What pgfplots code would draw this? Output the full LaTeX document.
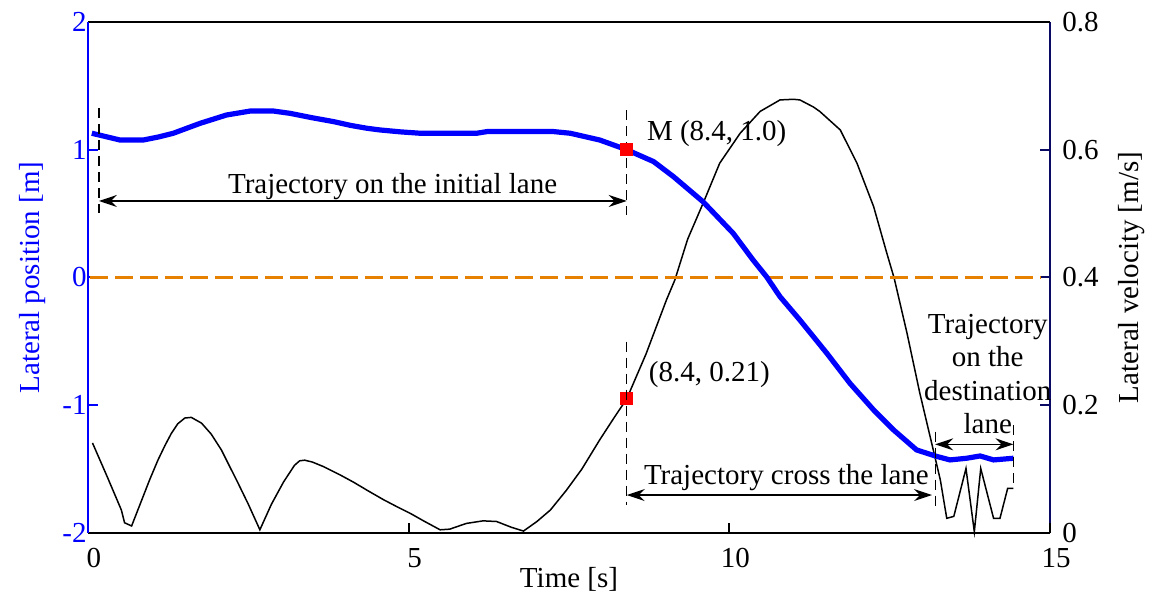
\documentclass[border=0pt]{standalone}
\usepackage{fontspec}
\setmainfont{Liberation Serif}
\usepackage{pgfplots}
\pgfplotsset{compat=1.18}
\usepackage{pgfplotstable}
\usetikzlibrary{arrows.meta}

\definecolor{posblue}{RGB}{0,0,255}
\definecolor{laneorange}{RGB}{230,128,0}
\definecolor{velaxis}{RGB}{10,10,100}

% lateral velocity [m/s] over time [s]
\pgfplotstableread{
t v
0.07 0.141
0.30 0.088
0.52 0.036
0.57 0.016
0.68 0.011
0.96 0.083
1.09 0.114
1.20 0.137
1.30 0.156
1.40 0.171
1.51 0.180
1.61 0.181
1.77 0.172
1.92 0.155
2.08 0.130
2.34 0.078
2.50 0.045
2.68 0.005
2.86 0.045
3.05 0.080
3.22 0.106
3.30 0.113
3.38 0.114
3.50 0.111
3.67 0.104
3.93 0.091
4.15 0.079
4.35 0.067
4.61 0.052
4.82 0.041
5.02 0.031
5.25 0.018
5.49 0.005
5.64 0.006
5.90 0.015
6.16 0.019
6.37 0.018
6.60 0.009
6.79 0.003
7.00 0.018
7.21 0.036
7.46 0.067
7.70 0.100
7.98 0.146
8.20 0.180
8.40 0.210
8.70 0.280
9.02 0.365
9.15 0.396
9.35 0.460
9.59 0.516
9.85 0.579
10.17 0.626
10.48 0.660
10.79 0.678
11.00 0.679
11.10 0.678
11.31 0.667
11.41 0.660
11.73 0.631
11.99 0.579
12.25 0.511
12.45 0.440
12.57 0.399
12.77 0.313
12.97 0.219
13.18 0.130
13.29 0.083
13.39 0.023
13.50 0.026
13.69 0.101
13.82 0.002
13.92 0.101
14.12 0.023
14.22 0.023
14.34 0.070
14.43 0.070
}\velocity

% lateral position [m] over time [s]
\pgfplotstableread{
t y
0.06 1.129
0.30 1.100
0.50 1.076
0.86 1.076
1.10 1.100
1.33 1.129
1.55 1.170
1.75 1.207
2.16 1.272
2.53 1.303
2.89 1.303
3.15 1.285
3.50 1.250
3.83 1.220
4.10 1.190
4.35 1.168
4.55 1.155
4.87 1.140
5.18 1.129
6.06 1.129
6.22 1.142
7.26 1.142
7.52 1.129
7.98 1.076
8.40 1.000
8.82 0.907
9.13 0.789
9.59 0.593
10.06 0.346
10.37 0.137
10.58 0.006
10.79 -0.150
11.10 -0.333
11.52 -0.593
11.88 -0.828
12.25 -1.037
12.56 -1.193
12.92 -1.350
13.23 -1.400
13.44 -1.428
13.70 -1.415
13.91 -1.397
14.12 -1.428
14.43 -1.415
}\position

\begin{document}
\fontsize{14.5}{16.7}\selectfont
\begin{tikzpicture}[
  guide/.style={black, line width=0.6pt, dash pattern=on 5pt off 3pt},
  span/.style={black, line width=0.65pt,
    {Stealth[length=9pt,width=6pt,inset=3pt]}-{Stealth[length=9pt,width=6pt,inset=3pt]}},
]
\pgfplotsset{
  common/.style={
    at={(0,0)}, anchor=south west,
    scale only axis, width=481pt, height=255.5pt,
    xmin=0, xmax=15, clip=false,
    major tick length=5pt, tick align=inside,
  }
}
% right axis: lateral velocity
\begin{axis}[common,
  axis x line=none, axis y line*=right,
  ymin=0, ymax=0.8,
  ytick={0,0.2,0.4,0.6,0.8}, yticklabels={0,0.2,0.4,0.6,0.8},
  y axis line style={velaxis, line width=1pt},
  ytick style={velaxis, line width=1pt},
  yticklabel style={black, inner xsep=0pt, xshift=6pt},
  ylabel={Lateral velocity [m/s]},
  every axis y label/.style={at={(axis description cs:1.0852,0.5)}, anchor=center, rotate=90},
]
\addplot[black, line width=0.75pt] table[x=t, y=v] {\velocity};
\addplot[only marks, mark=square*, mark size=3pt, red] coordinates {(8.4,0.21)};
\end{axis}

% left axis: lateral position
\begin{axis}[common,
  axis x line*=box, axis y line*=left, xtick pos=left,
  ymin=-2, ymax=2,
  xtick={0,5,10,15}, xticklabels={0,5,10,15},
  ytick={-2,-1,0,1,2}, yticklabels={-2,-1,0,1,2},
  x axis line style={black, line width=1.2pt},
  y axis line style={posblue, line width=1pt},
  xtick style={black, line width=1pt},
  ytick style={posblue, line width=1pt},
  yticklabel style={posblue, inner xsep=0.5pt},
  xticklabel style={xshift=3pt, yshift=-2.5pt},
  xlabel={Time [s]}, ylabel={Lateral position [m]},
  every axis x label/.style={at={(axis description cs:0.5,-0.1057)}, anchor=base},
  every axis y label/.style={at={(axis description cs:-0.0572,0.5)}, anchor=center, rotate=90, color=posblue},
]
% lane centre line
\addplot[laneorange, line width=1.5pt, dash pattern=on 9pt off 3.5pt] coordinates {(0.03,0) (14.85,0)};
\addplot[posblue, line width=2.6pt] table[x=t, y=y] {\position};
\addplot[only marks, mark=square*, mark size=3pt, red] coordinates {(8.4,1.0)};

% phase boundaries
\draw[guide] (0.17,1.327) -- (0.17,0.505);
\draw[guide] (8.4,1.311) -- (8.4,0.489);
\draw[guide] (8.4,-0.503) -- (8.4,-1.78);
\draw[guide] (13.21,-1.207) -- (13.21,-1.794);
\draw[guide] (14.43,-1.155) -- (14.43,-1.638);

% phase spans
\draw[span] (0.17,0.599) -- (8.4,0.599);
\draw[span] (8.4,-1.703) -- (13.16,-1.703);
\draw[span] (13.21,-1.306) -- (14.43,-1.306);

\node[anchor=base] at (4.75,0.661) {Trajectory on the initial lane};
\node[anchor=base west, inner sep=0pt] at (8.71,1.076) {M (8.4, 1.0)};
\node[anchor=base west, inner sep=0pt] at (8.74,-0.816) {(8.4, 0.21)};
\node[anchor=base] at (10.89,-1.624) {Trajectory cross the lane};
\node[anchor=base] at (14.03,-0.437) {Trajectory};
\node[anchor=base] at (14.03,-0.698) {on the};
\node[anchor=base] at (14.03,-0.959) {destination};
\node[anchor=base] at (14.03,-1.22) {lane};
\end{axis}
\pgfresetboundingbox
\useasboundingbox (-44pt,-37.5pt) rectangle (532pt,266.5pt);
\end{tikzpicture}
\end{document}
